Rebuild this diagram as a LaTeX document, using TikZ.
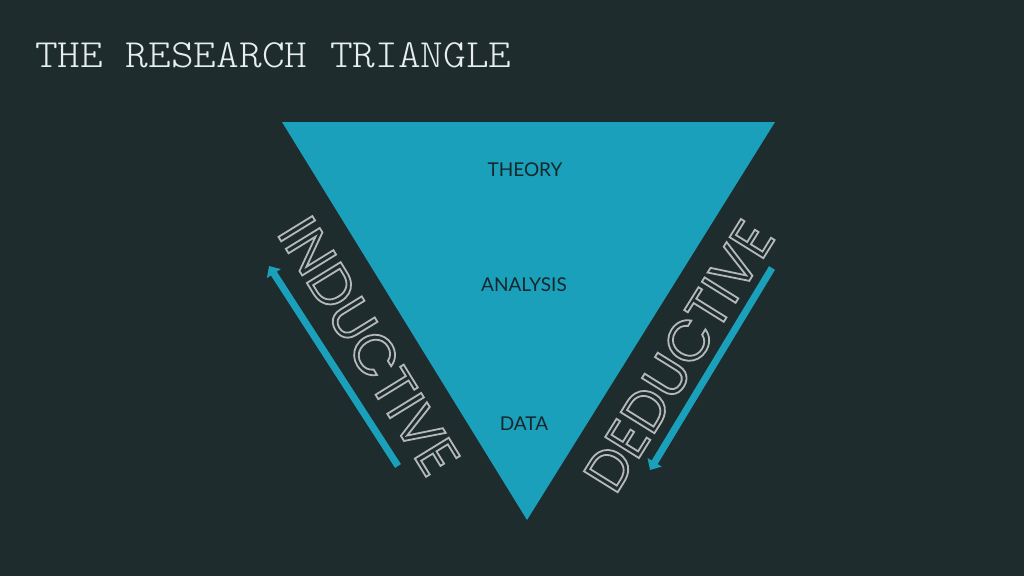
\documentclass[tikz,border=0pt]{standalone}
\usepackage{fontspec}
\usetikzlibrary{arrows.meta}
\newfontfamily\labelfont{Lato}
\newfontfamily\geofont{Poppins}
\newfontfamily\titlefont{Latin Modern Mono Light}
\definecolor{bgc}{HTML}{1F2C2E}
\definecolor{tealc}{HTML}{1AA0BA}
\definecolor{titlec}{HTML}{E6EEEE}
\definecolor{labelc}{HTML}{15272C}
\definecolor{outlc}{HTML}{B4B8B8}
\newcommand{\hollowtext}[1]{\special{pdf:code 1 Tr 1.8 w}#1\special{pdf:code 0 Tr}}
\tikzset{
  lbl/.style={font=\labelfont\fontsize{19}{19}\selectfont, text=labelc, inner sep=0pt},
  sidetext/.style={font=\geofont\fontsize{57}{57}\selectfont, text=outlc, inner sep=0pt},
  flow/.style={draw=tealc, line width=7pt, -{Triangle[length=9pt,width=16pt]}}
}
\begin{document}
\begin{tikzpicture}[x=1pt,y=-1pt]
\useasboundingbox (0,0) rectangle (1024,576);
\fill[bgc] (0,0) rectangle (1024,576);
\node[anchor=base west, inner sep=0pt, text=titlec, xscale=1.08,
  font=\titlefont\fontsize{40}{40}\selectfont] (title) at (35,67) {THE RESEARCH TRIANGLE};
\coordinate (tl) at (282,122);
\coordinate (tr) at (775,122);
\coordinate (bt) at (527,520);
\fill[tealc] (tl) -- (tr) -- (bt) -- cycle;
\node[lbl] (theory) at (525,170) {THEORY};
\node[lbl] (analysis) at (524,285) {ANALYSIS};
\node[lbl] (data) at (524,424) {DATA};
\node[sidetext, rotate=-58.4] (ind) at (369,346) {\hollowtext{INDUCTIVE}};
\node[sidetext, rotate=58.1] (ded) at (679,356) {\hollowtext{DEDUCTIVE}};
\coordinate (i1) at (398,466);
\coordinate (i2) at (269,266);
\coordinate (d1) at (772,268);
\coordinate (d2) at (650,470);
\draw[flow] (i1) -- (i2);
\draw[flow] (d1) -- (d2);
\end{tikzpicture}
\end{document}
